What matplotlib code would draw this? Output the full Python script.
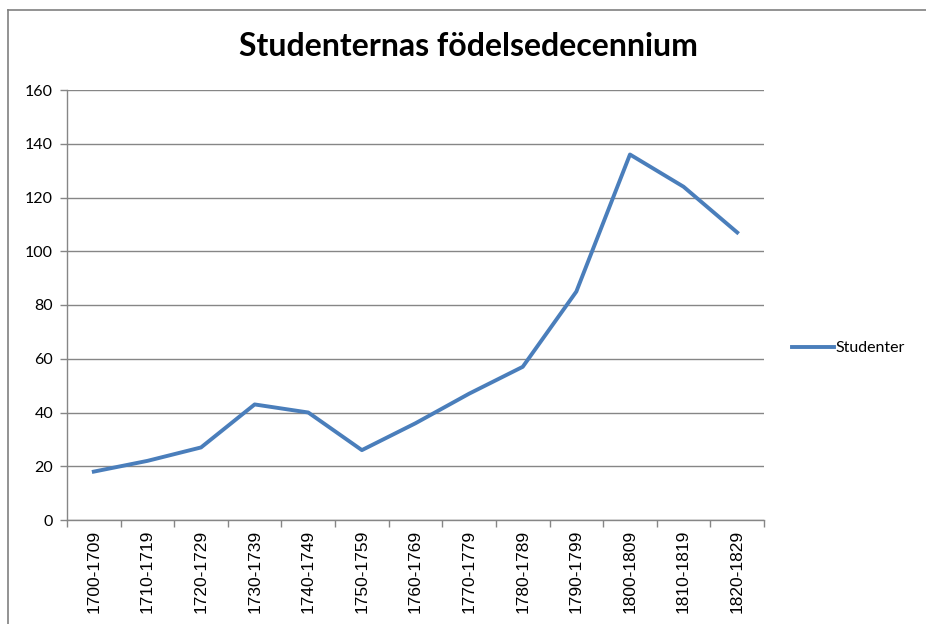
import matplotlib
matplotlib.use("Agg")
import matplotlib.pyplot as plt
from matplotlib.lines import Line2D

# ---------------------------------------------------------------------------
# Data
# ---------------------------------------------------------------------------
decades = ["1700-1709", "1710-1719", "1720-1729", "1730-1739", "1740-1749",
           "1750-1759", "1760-1769", "1770-1779", "1780-1789", "1790-1799",
           "1800-1809", "1810-1819", "1820-1829"]
studenter = [18, 22, 27, 43, 40, 26, 36, 47, 57, 85, 136, 124, 107]
yticks = [0, 20, 40, 60, 80, 100, 120, 140, 160]

W, H = 926, 624
grid_col = "#868686"
line_col = "#4A7EBB"

fig = plt.figure(figsize=(W / 100, H / 100), dpi=100)
ax = fig.add_axes([67 / W, 1 - 520 / H, (764 - 67) / W, (520 - 90) / H])

x = list(range(len(decades)))
ax.plot(x, studenter, color=line_col, linewidth=2.8, solid_joinstyle="round",
        label="Studenter")

ax.set_xlim(-0.5, len(decades) - 0.5)
ax.set_ylim(0, 160)
ax.set_yticks(yticks)
ax.set_yticklabels([str(v) for v in yticks], fontfamily="Lato", fontsize=11.5)
ax.yaxis.grid(True, color=grid_col, linewidth=1.0)
ax.set_axisbelow(True)

# category boundaries as ticks, labels in the middle
ax.set_xticks([i - 0.5 for i in range(len(decades) + 1)])
ax.set_xticklabels([])
ax.set_xticks(x, minor=True)
ax.set_xticklabels(decades, minor=True, rotation=90, fontfamily="Liberation Sans",
                   fontsize=12.5)
ax.tick_params(axis="x", which="minor", length=0, pad=7)
ax.tick_params(axis="x", which="major", length=5, color=grid_col, width=1.0)
ax.tick_params(axis="y", length=5, color=grid_col, width=1.0, pad=5)

for side in ["top", "right"]:
    ax.spines[side].set_visible(False)
for side in ["left", "bottom"]:
    ax.spines[side].set_color(grid_col)
    ax.spines[side].set_linewidth(1.0)

fig.text(468 / W, 1 - 47 / H, "Studenternas födelsedecennium", ha="center",
         va="center", fontfamily="Lato", fontweight="bold", fontsize=23)

ax.legend(loc="center left", bbox_to_anchor=(1.02, 0.4), frameon=False,
          prop={"family": "Lato", "size": 11.5}, handlelength=2.6,
          handletextpad=0.1)

# chart area border (top and left only visible)
fig.add_artist(Line2D([7.5 / W, 1], [1 - 9.5 / H, 1 - 9.5 / H], color="#808080",
                      linewidth=1.2, transform=fig.transFigure))
fig.add_artist(Line2D([7.5 / W, 7.5 / W], [0, 1 - 9.5 / H], color="#808080",
                      linewidth=1.2, transform=fig.transFigure))

plt.savefig("out.png", dpi=100)
